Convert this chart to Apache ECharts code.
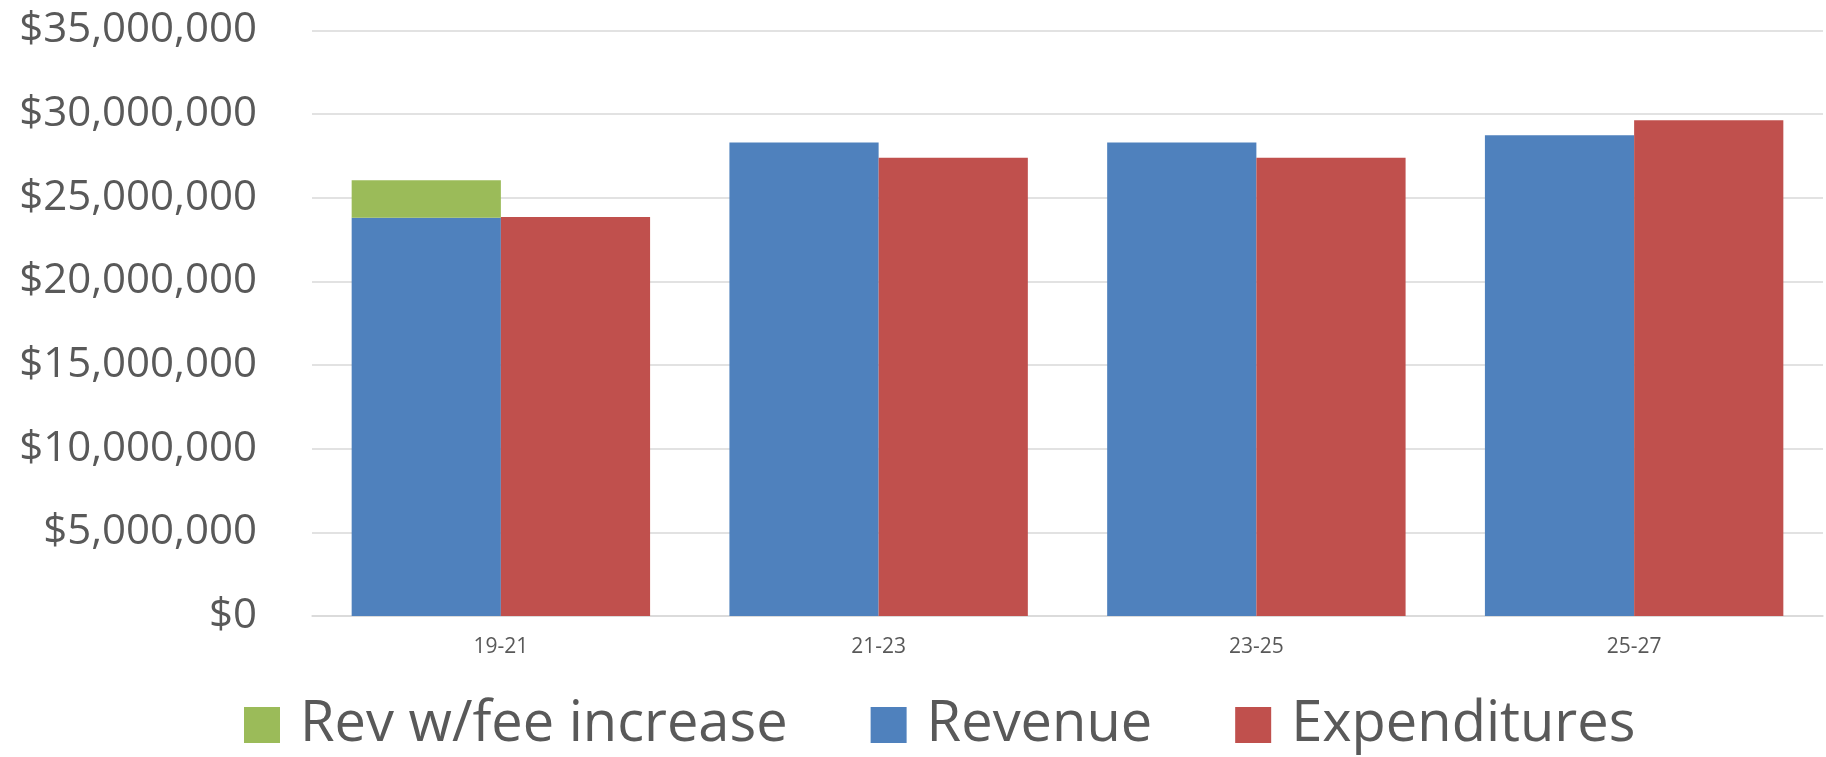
<!DOCTYPE html>
<html>
<head>
<meta charset="utf-8">
<script src="https://cdn.jsdelivr.net/npm/echarts@6/dist/echarts.min.js"></script>
<style>
html,body{margin:0;padding:0;background:#fff;}
#chart{width:1826px;height:757px;}
</style>
</head>
<body>
<div id="chart"></div>
<script>
const categories = ['19-21', '21-23', '23-25', '25-27'];
const revenue = [23810000, 28300000, 28300000, 28740000];
const feeIncrease = [2240000, null, null, null]; // added on top of revenue
const expenditures = [23850000, 27400000, 27400000, 29640000];
const yTicks = { min: 0, max: 35000000, interval: 5000000 };
const legendNames = ['Rev w/fee increase', 'Revenue', 'Expenditures'];

const chart = echarts.init(document.getElementById('chart'), null, { renderer: 'canvas' });
const font = '"Open Sans", "Noto Sans", sans-serif';
chart.setOption({
  animation: false,
  color: ['#4F81BD', '#9BBB59', '#C0504D'],
  grid: { left: 312, right: 3, top: 30.5, bottom: 141, containLabel: false },
  legend: {
    data: legendNames,
    left: 244,
    top: 697,
    itemWidth: 36,
    itemHeight: 36,
    itemGap: 83,
    icon: 'rect',
    padding: 0,
    textStyle: { fontFamily: font, fontSize: 56, lineHeight: 40, color: '#595959', padding: [0, 0, 0, 15] }
  },
  xAxis: {
    type: 'category',
    data: categories,
    axisLine: { show: true, lineStyle: { color: '#D9D9D9', width: 1.5 } },
    axisTick: { show: false },
    axisLabel: { fontFamily: font, fontSize: 21, color: '#595959', margin: 21 }
  },
  yAxis: {
    type: 'value',
    min: yTicks.min,
    max: yTicks.max,
    interval: yTicks.interval,
    axisLine: { show: false },
    axisTick: { show: false },
    splitLine: { lineStyle: { color: '#D9D9D9', width: 1.5 } },
    axisLabel: {
      fontFamily: font, fontSize: 42, color: '#595959', margin: 55,
      formatter: v => '$' + v.toLocaleString('en-US')
    }
  },
  series: [
    { name: 'Revenue', type: 'bar', stack: 'rev', data: revenue, barGap: '0%', barCategoryGap: '21%', itemStyle: { color: '#4F81BD' } },
    { name: 'Rev w/fee increase', type: 'bar', stack: 'rev', data: feeIncrease, itemStyle: { color: '#9BBB59' } },
    { name: 'Expenditures', type: 'bar', data: expenditures, barGap: '0%', barCategoryGap: '21%', itemStyle: { color: '#C0504D' } }
  ]
});
</script>
</body>
</html>
